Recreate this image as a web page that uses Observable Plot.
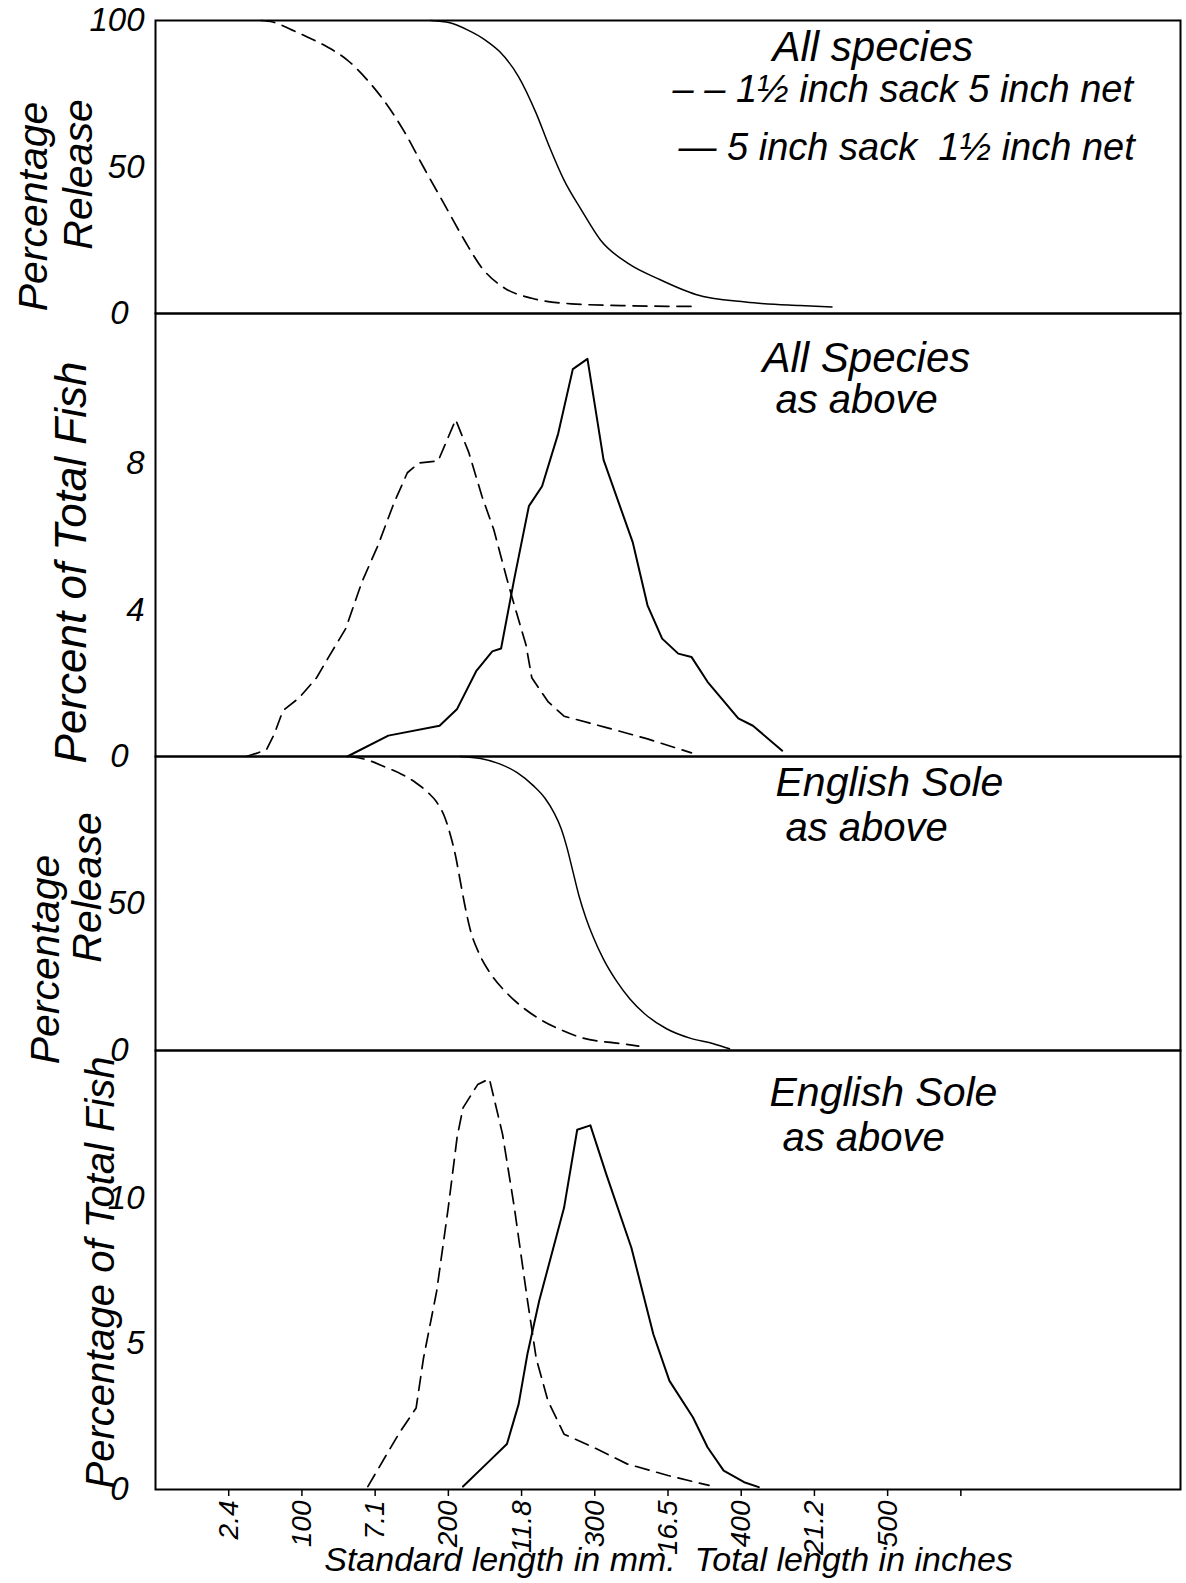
<!DOCTYPE html>
<html><head><meta charset="utf-8">
<script src="https://cdn.jsdelivr.net/npm/d3@7"></script>
<script src="https://cdn.jsdelivr.net/npm/@observablehq/plot@0.6"></script>
<style>
html,body{margin:0;padding:0;background:#fff;}
#wrap{position:relative;width:1186px;height:1583px;overflow:hidden;background:#fff;}
#wrap > svg{position:absolute;left:0;}
</style></head><body><div id="wrap"></div>
<script>
// ---- Data (standard length in mm vs percentage) ----
// Panel 1: All species, percentage release
const relAllSmallX = [72, 80, 93, 104, 118, 131, 145, 157, 170, 183, 197, 211, 223, 238, 257, 284, 318, 367];
const relAllSmallY = [100, 99.5, 96.8, 94.3, 90.8, 86.5, 79.5, 72, 62, 50, 37.5, 25, 15.5, 8.8, 5.2, 3.3, 2.7, 2.4];
const relAllLargeX = [188, 201, 213, 225, 235, 248, 260, 269, 279, 291, 304, 323, 343, 369, 403, 440, 462];
const relAllLargeY = [100, 99.2, 96.8, 93.4, 89.4, 80.8, 68.3, 56.9, 45.5, 35.2, 25, 17, 11.9, 6.5, 3.9, 2.7, 2.2];
// Panel 2: All species, percent of total fish
const pctAllSmallX = [62, 70, 76, 81, 87, 98, 110, 118, 130, 141, 152, 163, 172, 180, 193, 205, 214, 223, 231, 240, 245, 253, 257, 268, 279, 308, 336, 366];
const pctAllSmallY = [0, 0.1, 0.2, 0.6, 1.25, 1.6, 2.15, 2.7, 3.5, 4.77, 5.77, 6.94, 7.75, 8.02, 8.07, 9.2, 8.3, 7.1, 6.2, 4.85, 4.14, 3.05, 2.15, 1.5, 1.1, 0.79, 0.48, 0.1];
const pctAllLargeX = [131, 159, 194, 206, 219, 230, 236, 245, 255, 264, 275, 285, 295, 306, 326, 336, 346, 357, 366, 377, 398, 408, 428];
const pctAllLargeY = [0, 0.57, 0.84, 1.3, 2.33, 2.87, 2.95, 4.85, 6.84, 7.38, 8.82, 10.58, 10.86, 8.1, 5.84, 4.13, 3.22, 2.81, 2.72, 2.04, 1.04, 0.84, 0.16];
// Panel 3: English sole, percentage release
const relSoleSmallX = [133, 145, 156, 168, 178, 186, 192, 197, 201, 205, 208, 211, 215, 221, 229, 240, 252, 263, 278, 292, 317, 330];
const relSoleSmallY = [100, 98.8, 96.6, 94, 91, 87.8, 84.5, 80, 74, 66, 58, 50, 41, 33, 26, 19.5, 14.2, 10.5, 6.8, 4.2, 2.4, 1.5];
const relSoleLargeX = [208, 222, 235, 247, 258, 266, 272, 277, 281, 285, 289, 294, 299, 306, 315, 324, 334, 349, 365, 381, 392];
const relSoleLargeY = [100, 99.3, 97.5, 94.5, 90.1, 85.8, 81, 75.5, 69, 61, 53, 45, 38.5, 31, 23.5, 17.5, 12.5, 7.4, 4.2, 2.3, 0.6];
// Panel 4: English sole, percentage of total fish
const pctSoleSmallX = [145, 166, 178, 183, 192, 200, 206, 210, 220, 228, 237, 245, 254, 260, 268, 279, 299, 322, 350, 378];
const pctSoleSmallY = [0.1, 1.9, 2.8, 4.5, 6.8, 9.7, 12.1, 13.1, 13.9, 14.1, 12.2, 9.7, 6.5, 4.5, 3.05, 1.9, 1.45, 0.88, 0.48, 0.14];
const pctSoleLargeX = [210, 226, 240, 248, 254, 262, 279, 288, 297, 308, 325, 340, 351, 367, 377, 388, 402, 412];
const pctSoleLargeY = [0.1, 0.88, 1.56, 2.93, 4.65, 6.47, 9.67, 12.35, 12.5, 10.8, 8.3, 5.33, 3.73, 2.48, 1.45, 0.65, 0.25, 0.08];
// Bottom axis: standard length (mm) ticks and alternating total-length (inch) labels
const xTickValues = [50, 100, 150, 200, 250, 300, 350, 400, 450, 500, 550];
const xTickLabels = ["2.4", "100", "7.1", "200", "11.8", "300", "16.5", "400", "21.2", "500", ""];
const legendLabels = ["1½ inch sack 5 inch net", "5 inch sack  1½ inch net"];

// ---- Layout ----
const W = 1186, ML = 155, MR = 6;
const FONT = '"Liberation Sans", Arimo, "DejaVu Sans", sans-serif';
const wrap = document.getElementById("wrap");
const pts = (xs, ys) => xs.map((x, i) => ({x, y: ys[i]}));

function txt(str, px, py, P, opts = {}) {
  return Plot.text([str], Object.assign({
    text: d => d, frameAnchor: "top-left",
    dx: px - ML, dy: py - P.top - P.mt,
    textAnchor: "start", lineAnchor: "middle", fontSize: 40, fill: "black"
  }, opts));
}
function vtxt(str, px, py, P, size) {
  return txt(str, px, py, P, {rotate: -90, textAnchor: "middle", fontSize: size});
}

function panel(P) {
  const smooth = P.smooth;
  const marks = [
    Plot.frame({stroke: "black", strokeWidth: 2}),
    Plot.line(pts(P.dx, P.dy), {x: "x", y: "y", stroke: "black", strokeWidth: 1.7,
      strokeDasharray: "14,8", curve: smooth ? "monotone-x" : "linear"}),
    Plot.line(pts(P.sx, P.sy), {x: "x", y: "y", stroke: "black", strokeWidth: smooth ? 1.5 : 2,
      curve: smooth ? "monotone-x" : "linear"}),
    Plot.axisY({ticks: P.yTicks, tickSize: 0, tickPadding: 11, fontSize: 33, fontStyle: "italic", label: null}),
    Plot.axisY({ticks: [0], tickSize: 0, tickPadding: 27, fontSize: 33, fontStyle: "italic", label: null}),
    ...P.extra
  ];
  const svg = Plot.plot({
    width: W, height: P.height,
    marginLeft: ML, marginRight: MR, marginTop: P.mt, marginBottom: P.mb,
    x: {domain: [0, 700], axis: null, label: null},
    y: {domain: P.yDomain, axis: null, label: null},
    style: {background: "transparent", overflow: "visible", fontFamily: FONT, fontSize: "30px", fontStyle: "italic", color: "black"},
    marks
  });
  svg.style.top = P.top + "px";
  wrap.appendChild(svg);
}

const P1 = {top: 0, height: 330, mt: 20, mb: 17};
panel(Object.assign(P1, {
  yDomain: [0, 100], yTicks: [50, 100], smooth: true,
  dx: relAllSmallX, dy: relAllSmallY, sx: relAllLargeX, sy: relAllLargeY,
  extra: [
    vtxt("Percentage", 33, 206, P1, 41),
    vtxt("Release", 78, 174, P1, 41),
    txt("All species", 772, 47, P1, {fontSize: 42}),
    txt("– – " + legendLabels[0], 672, 89, P1, {fontSize: 38}),
    txt("— " + legendLabels[1], 678, 147, P1, {fontSize: 38})
  ]
}));

const P2 = {top: 290, height: 480, mt: 23, mb: 14};
panel(Object.assign(P2, {
  yDomain: [0, 12.1], yTicks: [4, 8], smooth: false,
  dx: pctAllSmallX, dy: pctAllSmallY, sx: pctAllLargeX, sy: pctAllLargeY,
  extra: [
    vtxt("Percent of Total Fish", 71, 562, P2, 44),
    txt("All Species", 762, 358, P2, {fontSize: 42}),
    txt("as above", 775, 400, P2, {fontSize: 40})
  ]
}));

const P3 = {top: 736, height: 330, mt: 20, mb: 16};
panel(Object.assign(P3, {
  yDomain: [0, 100], yTicks: [50], smooth: true,
  dx: relSoleSmallX, dy: relSoleSmallY, sx: relSoleLargeX, sy: relSoleLargeY,
  extra: [
    vtxt("Percentage", 45, 959, P3, 41),
    vtxt("Release", 87, 887, P3, 41),
    txt("English Sole", 775, 782, P3, {fontSize: 41}),
    txt("as above", 785, 828, P3, {fontSize: 40})
  ]
}));

const P4 = {top: 1030, height: 553, mt: 20, mb: 94};
panel(Object.assign(P4, {
  yDomain: [0, 15.07], yTicks: [5, 10], smooth: false,
  dx: pctSoleSmallX, dy: pctSoleSmallY, sx: pctSoleLargeX, sy: pctSoleLargeY,
  extra: [
    Plot.axisX({ticks: xTickValues, tickFormat: d => xTickLabels[xTickValues.indexOf(d)],
      tickRotate: -90, tickSize: 7, tickPadding: 4, fontSize: 28, fontStyle: "italic", strokeWidth: 1.5, label: null}),
    vtxt("Percentage of Total Fish", 101, 1272, P4, 40),
    txt("English Sole", 769, 1092, P4, {fontSize: 41}),
    txt("as above", 782, 1138, P4, {fontSize: 40}),
    txt("Standard length in mm.  Total length in inches", 668, 1560, P4, {fontSize: 34, textAnchor: "middle"})
  ]
}));
</script></body></html>
